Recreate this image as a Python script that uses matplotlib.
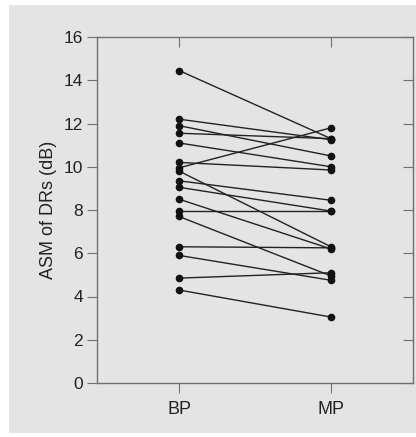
import matplotlib
matplotlib.use("Agg")
import matplotlib.pyplot as plt
from matplotlib.patches import Rectangle

plt.rcParams['font.family'] = ['Liberation Sans', 'DejaVu Sans']

# paired values, one entry per subject
groups = ["BP", "MP"]
bp = [14.45, 12.2, 11.9, 11.55, 11.1, 10.2, 9.95, 9.8, 9.35, 9.05, 8.5, 7.95, 7.7, 6.3, 5.9, 4.85, 4.3]
mp = [11.3, 11.25, 10.5, 11.3, 10.0, 9.85, 11.8, 6.3, 8.45, 7.95, 6.2, 7.95, 4.95, 6.25, 4.75, 5.1, 3.05]
yticks = [0, 2, 4, 6, 8, 10, 12, 14, 16]

bg = "#e4e4e4"
spine_col = "#707070"

fig = plt.figure(figsize=(4.16, 4.37), dpi=100)
fig.patch.set_facecolor("white")
fig.patches.append(Rectangle((9 / 416, 4 / 437), 1 - 9 / 416, 428 / 437,
                             transform=fig.transFigure, facecolor=bg,
                             edgecolor="none", zorder=-10))

ax = fig.add_axes([97 / 416, 1 - 383 / 437, 316 / 416, 346 / 437])
ax.set_zorder(5)
ax.set_facecolor(bg)

for a, b in zip(bp, mp):
    ax.plot([0, 1], [a, b], color="#222222", lw=1.0, marker="o",
            markersize=4.5, markerfacecolor="#111111", markeredgecolor="#111111")

ax.set_xlim(-0.54, 1.54)
ax.set_ylim(0, 16)
ax.set_yticks(yticks)
ax.set_xticks([0, 1])
ax.set_xticklabels(groups, fontsize=13)
ax.set_ylabel("ASM of DRs (dB)", fontsize=13, color="#222222", labelpad=5)

for s in ax.spines.values():
    s.set_color(spine_col)
    s.set_linewidth(1.0)

ax.tick_params(axis="both", colors=spine_col, labelcolor="#222222",
               length=7, width=0.8)
ax.tick_params(axis="y", direction="out", right=True, labelsize=12.5, pad=3)
ax.tick_params(axis="x", direction="out", top=True, pad=6)
# ticks on right and top point inward
for t in ax.yaxis.get_major_ticks():
    t.tick2line.set_marker(matplotlib.lines.TICKLEFT)
for t in ax.xaxis.get_major_ticks():
    t.tick2line.set_marker(matplotlib.lines.TICKDOWN)

fig.savefig("out.png", dpi=100, facecolor=fig.get_facecolor())
